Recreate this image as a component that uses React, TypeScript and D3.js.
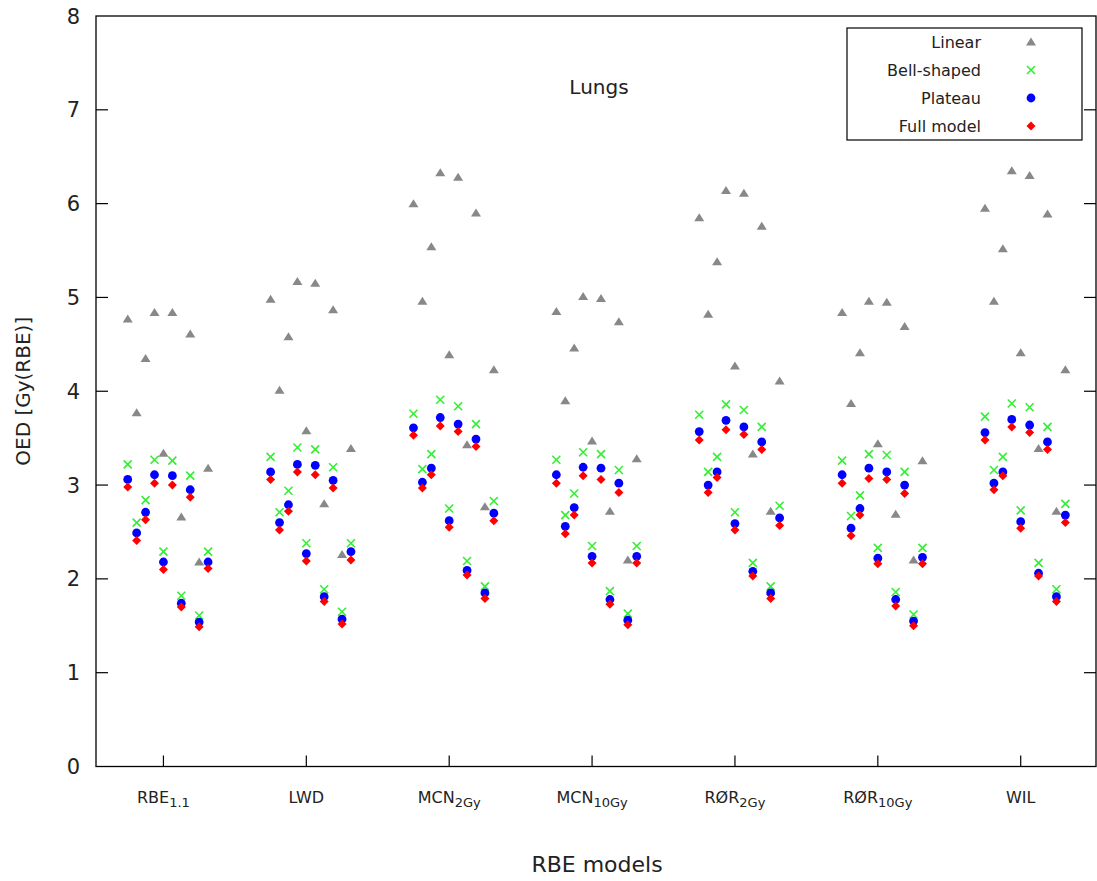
import React from "react";
import * as d3 from "d3";

// RBE model groups on the x axis (main text, subscript)
const models: [string, string][] = [
  ["RBE", "1.1"],
  ["LWD", ""],
  ["MCN", "2Gy"],
  ["MCN", "10Gy"],
  ["RØR", "2Gy"],
  ["RØR", "10Gy"],
  ["WIL", ""],
];

// ten points per model group, one row per model
const linear = [
  [4.77, 3.77, 4.35, 4.84, 3.34, 4.84, 2.66, 4.61, 2.18, 3.18],
  [4.98, 4.01, 4.58, 5.17, 3.58, 5.15, 2.80, 4.87, 2.26, 3.39],
  [6.00, 4.96, 5.54, 6.33, 4.39, 6.28, 3.43, 5.90, 2.77, 4.23],
  [4.85, 3.90, 4.46, 5.01, 3.47, 4.99, 2.72, 4.74, 2.20, 3.28],
  [5.85, 4.82, 5.38, 6.14, 4.27, 6.11, 3.33, 5.76, 2.72, 4.11],
  [4.84, 3.87, 4.41, 4.96, 3.44, 4.95, 2.69, 4.69, 2.20, 3.26],
  [5.95, 4.96, 5.52, 6.35, 4.41, 6.30, 3.39, 5.89, 2.72, 4.23],
];

const bellShaped = [
  [3.22, 2.60, 2.84, 3.27, 2.29, 3.26, 1.82, 3.10, 1.61, 2.29],
  [3.30, 2.71, 2.94, 3.40, 2.38, 3.38, 1.89, 3.19, 1.65, 2.38],
  [3.76, 3.17, 3.33, 3.91, 2.75, 3.84, 2.19, 3.65, 1.92, 2.83],
  [3.27, 2.68, 2.91, 3.35, 2.35, 3.33, 1.87, 3.16, 1.63, 2.35],
  [3.75, 3.14, 3.30, 3.86, 2.71, 3.80, 2.17, 3.62, 1.92, 2.78],
  [3.26, 2.67, 2.89, 3.33, 2.33, 3.32, 1.86, 3.14, 1.62, 2.33],
  [3.73, 3.16, 3.30, 3.87, 2.73, 3.83, 2.17, 3.62, 1.89, 2.80],
];

const plateau = [
  [3.06, 2.49, 2.71, 3.11, 2.18, 3.10, 1.74, 2.95, 1.54, 2.18],
  [3.14, 2.60, 2.79, 3.22, 2.27, 3.21, 1.81, 3.05, 1.57, 2.29],
  [3.61, 3.03, 3.18, 3.72, 2.62, 3.65, 2.09, 3.49, 1.85, 2.70],
  [3.11, 2.56, 2.76, 3.19, 2.24, 3.18, 1.78, 3.02, 1.56, 2.24],
  [3.57, 3.00, 3.14, 3.69, 2.59, 3.62, 2.08, 3.46, 1.85, 2.65],
  [3.11, 2.54, 2.75, 3.18, 2.22, 3.14, 1.78, 3.00, 1.55, 2.23],
  [3.56, 3.02, 3.14, 3.70, 2.61, 3.64, 2.06, 3.46, 1.81, 2.68],
];

const fullModel = [
  [2.98, 2.41, 2.63, 3.02, 2.10, 3.00, 1.70, 2.87, 1.49, 2.11],
  [3.06, 2.52, 2.72, 3.14, 2.19, 3.11, 1.76, 2.97, 1.52, 2.20],
  [3.53, 2.97, 3.11, 3.63, 2.55, 3.57, 2.04, 3.41, 1.79, 2.62],
  [3.02, 2.48, 2.68, 3.10, 2.17, 3.06, 1.73, 2.92, 1.51, 2.17],
  [3.48, 2.92, 3.08, 3.59, 2.52, 3.54, 2.03, 3.38, 1.79, 2.57],
  [3.02, 2.46, 2.68, 3.07, 2.16, 3.06, 1.71, 2.91, 1.50, 2.16],
  [3.48, 2.95, 3.10, 3.62, 2.54, 3.56, 2.03, 3.38, 1.76, 2.60],
];

const yTicks = [0, 1, 2, 3, 4, 5, 6, 7, 8];

const series = [
  { name: "Linear", values: linear, shape: "triangle", color: "#888888" },
  { name: "Bell-shaped", values: bellShaped, shape: "cross", color: "#33ee33" },
  { name: "Plateau", values: plateau, shape: "circle", color: "#0000ff" },
  { name: "Full model", values: fullModel, shape: "diamond", color: "#ff0000" },
];

const W = 1097;
const H = 881;
const left = 96, right = 1096, top = 16, bottom = 766.5;
const font = "DejaVu Sans, sans-serif";

function Marker({ shape, color, cx, cy }: { shape: string; color: string; cx: number; cy: number }) {
  if (shape === "triangle") {
    return <path d={`M${cx},${cy - 4.5}L${cx + 5},${cy + 3.5}L${cx - 5},${cy + 3.5}Z`} fill={color} />;
  }
  if (shape === "cross") {
    return (
      <path
        d={`M${cx - 4},${cy - 4}L${cx + 4},${cy + 4}M${cx - 4},${cy + 4}L${cx + 4},${cy - 4}`}
        stroke={color}
        strokeWidth={1.6}
        fill="none"
      />
    );
  }
  if (shape === "circle") {
    return <circle cx={cx} cy={cy} r={4.4} fill={color} />;
  }
  return <path d={`M${cx},${cy - 4.5}L${cx + 4.5},${cy}L${cx},${cy + 4.5}L${cx - 4.5},${cy}Z`} fill={color} />;
}

export default function App() {
  const x = d3.scaleLinear().domain([0.528, 7.527]).range([left, right]);
  const y = d3.scaleLinear().domain([0, 8]).range([bottom, top]);
  const offset = (i: number) => -0.25 + i * 0.0625;

  return (
    <div style={{ position: "absolute", left: 0, top: 0 }}>
      <svg width={W} height={H} style={{ display: "block", background: "#fff" }} fontFamily={font}>
        {/* frame */}
        <rect x={left} y={top} width={right - left} height={bottom - top} fill="none" stroke="#000" strokeWidth={1.3} />

        {/* y ticks */}
        {yTicks.map((t) => (
          <g key={t}>
            {t > 0 && t < 8 && (
              <>
                <line x1={left} x2={left + 12} y1={y(t)} y2={y(t)} stroke="#000" strokeWidth={1.2} />
                <line x1={right - 12} x2={right} y1={y(t)} y2={y(t)} stroke="#000" strokeWidth={1.2} />
              </>
            )}
            <text x={80} y={y(t)} dy="0.36em" textAnchor="end" fontSize={21} fill="#222">
              {t}
            </text>
          </g>
        ))}

        {/* x ticks */}
        {models.map(([main, sub], k) => (
          <g key={k}>
            <line x1={x(k + 1)} x2={x(k + 1)} y1={bottom} y2={bottom - 11} stroke="#000" strokeWidth={1.2} />
            <text x={x(k + 1)} y={803} textAnchor="middle" fontSize={16} fill="#222">
              {main}
              {sub && (
                <tspan fontSize={13} dy={4}>
                  {sub}
                </tspan>
              )}
            </text>
          </g>
        ))}

        {/* points */}
        {series.map((s) => (
          <g key={s.name}>
            {s.values.map((row, k) =>
              row.map((v, i) => (
                <Marker key={`${k}-${i}`} shape={s.shape} color={s.color} cx={x(k + 1 + offset(i))} cy={y(v)} />
              ))
            )}
          </g>
        ))}

        {/* title */}
        <text x={599} y={94} textAnchor="middle" fontSize={20} fill="#222">
          Lungs
        </text>

        {/* legend */}
        <rect x={847} y={28} width={235} height={112} fill="#fff" stroke="#000" strokeWidth={1.2} />
        {series.map((s, i) => (
          <g key={s.name}>
            <text x={981} y={42 + i * 28} dy="0.36em" textAnchor="end" fontSize={16} fill="#222">
              {s.name}
            </text>
            <Marker shape={s.shape} color={s.color} cx={1031} cy={42 + i * 28} />
          </g>
        ))}

        {/* axis titles */}
        <text x={597} y={872} textAnchor="middle" fontSize={22} fill="#222">
          RBE models
        </text>
        <text transform={`translate(30,${(top + bottom) / 2}) rotate(-90)`} textAnchor="middle" fontSize={20} fill="#222">
          OED [Gy(RBE)]
        </text>
      </svg>
    </div>
  );
}
